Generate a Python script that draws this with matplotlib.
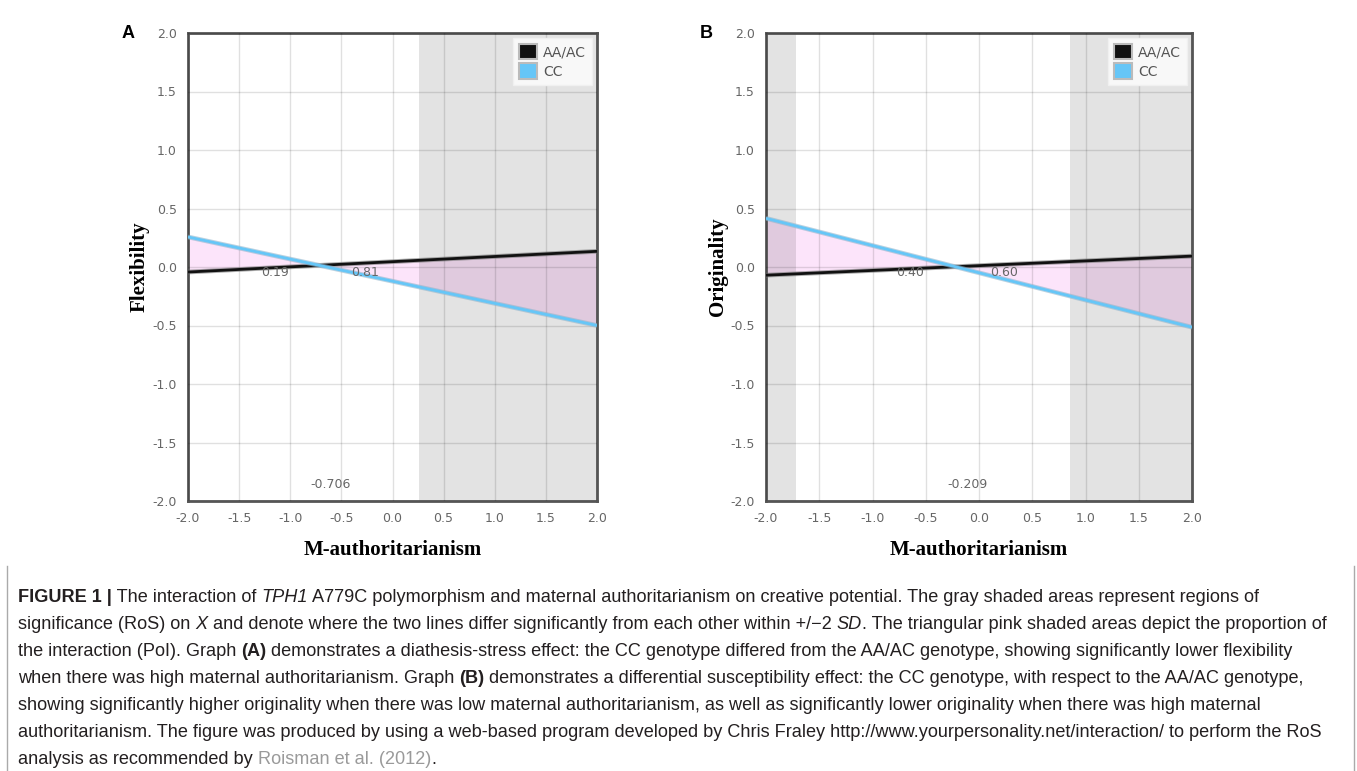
import numpy as np
import matplotlib
matplotlib.use("Agg")
import matplotlib.pyplot as plt
from matplotlib.patches import Patch
from matplotlib.lines import Line2D
import matplotlib.patheffects as pe

# x range of the simple slopes
x_ends = [-2.0, 2.0]

# panel A: Flexibility
flex_aa = [-0.043, 0.134]
flex_cc = [0.257, -0.500]
flex_ros = [(0.26, 2.0)]
flex_cross = -0.706
flex_poi = ["0.19", "0.81"]

# panel B: Originality
orig_aa = [-0.070, 0.093]
orig_cc = [0.416, -0.515]
orig_ros = [(-2.0, -1.72), (0.85, 2.0)]
orig_cross = -0.209
orig_poi = ["0.40", "0.60"]

groups = ["AA/AC", "CC"]
group_colors = ["#111111", "#66c6f7"]
ticks = [-2.0, -1.5, -1.0, -0.5, 0.0, 0.5, 1.0, 1.5, 2.0]

W, H = 1357, 771
fig = plt.figure(figsize=(W / 100, H / 100), dpi=100)
fig.patch.set_facecolor("white")

tick_col = "#666666"
serif = ["Liberation Serif", "DejaVu Serif"]
sans = ["Liberation Sans", "DejaVu Sans"]


def panel(rect, aa, cc, ros, cross, poi, ylabel, letter):
    ax = fig.add_axes(rect)
    x = np.array(x_ends)
    aa = np.array(aa)
    cc = np.array(cc)
    # proportion of interaction (pink triangles)
    xs = np.linspace(x[0], x[1], 200)
    ya = np.interp(xs, x, aa)
    yc = np.interp(xs, x, cc)
    ax.fill_between(xs, ya, yc, color="#f07ae6", alpha=0.2, lw=0, zorder=1)
    # regions of significance
    for a, b in ros:
        ax.axvspan(a, b, color="black", alpha=0.11, lw=0, zorder=2)
    ax.grid(True, color="black", alpha=0.12, lw=1, zorder=3)
    ax.set_axisbelow(False)
    for vals, c, edge in zip([aa, cc], group_colors, ["#777777", "#8fb4cc"]):
        ax.plot(x, vals, color=c, lw=2.0, zorder=5, solid_capstyle="butt",
                path_effects=[pe.withStroke(linewidth=3.4, foreground=edge, alpha=0.6)])
    ax.set_xlim(-2, 2)
    ax.set_ylim(-2, 2)
    ax.set_xticks(ticks)
    ax.set_yticks(ticks)
    ax.set_xticklabels(["%.1f" % t for t in ticks])
    ax.set_yticklabels(["%.1f" % t for t in ticks])
    ax.tick_params(length=0, labelsize=9, labelcolor=tick_col, pad=8)
    for s in ax.spines.values():
        s.set_color("#555555")
        s.set_linewidth(2)
    # labels of the crossing point and PoI
    ax.text(cross - 0.44, -0.05, poi[0], ha="center", va="center",
            fontsize=9, color=tick_col, zorder=6)
    ax.text(cross + 0.44, -0.05, poi[1], ha="center", va="center",
            fontsize=9, color=tick_col, zorder=6)
    ax.text(cross + 0.1, -1.86, "%.3f" % cross, ha="center", va="center",
            fontsize=9, color=tick_col, zorder=6)
    handles = [Patch(facecolor=c, edgecolor="#bbbbbb", lw=1.5) for c in group_colors]
    leg = ax.legend(handles, groups, loc="upper right", fontsize=10,
                    labelcolor="#555555", handlelength=1.3, handleheight=1.3,
                    handletextpad=0.4, borderpad=0.45, labelspacing=0.3,
                    fancybox=False, framealpha=1, borderaxespad=0.35)
    leg.get_frame().set_facecolor("#f8f8f8")
    leg.get_frame().set_edgecolor("#f0f0f0")
    leg.set_zorder(10)
    ax.set_ylabel(ylabel, family=serif, fontweight="bold", fontsize=15, labelpad=2)
    ax.set_xlabel("M-authoritarianism", family=serif, fontweight="bold",
                  fontsize=15, labelpad=11)
    fig.text(rect[0] - 60 / W, rect[1] + rect[3], letter, family=sans,
             fontweight="bold", fontsize=13, ha="center", va="center")
    return ax


bot = (H - 501) / H
hgt = (501 - 33) / H
panel([188 / W, bot, (597 - 188) / W, hgt], flex_aa, flex_cc, flex_ros,
      flex_cross, flex_poi, "Flexibility", "A")
panel([766 / W, bot, (1192 - 766) / W, hgt], orig_aa, orig_cc, orig_ros,
      orig_cross, orig_poi, "Originality", "B")

# caption box
for xx in [7, 1354]:
    fig.add_artist(Line2D([xx / W, xx / W], [0, (H - 566) / H], color="#aaaaaa", lw=1))

caption = [
    [("FIGURE 1 |", "b"), (" The interaction of ", ""), ("TPH1", "i"),
     (" A779C polymorphism and maternal authoritarianism on creative potential. "
      "The gray shaded areas represent regions of", "")],
    [("significance (RoS) on ", ""), ("X", "i"),
     (" and denote where the two lines differ significantly from each other within +/\u22122 ", ""),
     ("SD", "i"), (". The triangular pink shaded areas depict the proportion of", "")],
    [("the interaction (PoI). Graph ", ""), ("(A)", "b"),
     (" demonstrates a diathesis-stress effect: the CC genotype differed from the AA/AC "
      "genotype, showing significantly lower flexibility", "")],
    [("when there was high maternal authoritarianism. Graph ", ""), ("(B)", "b"),
     (" demonstrates a differential susceptibility effect: the CC genotype, with respect "
      "to the AA/AC genotype,", "")],
    [("showing significantly higher originality when there was low maternal "
      "authoritarianism, as well as significantly lower originality when there was high maternal", "")],
    [("authoritarianism. The figure was produced by using a web-based program developed by "
      "Chris Fraley http://www.yourpersonality.net/interaction/ to perform the RoS", "")],
    [("analysis as recommended by ", ""), ("Roisman et al. (2012)", "g"), (".", "")],
]

renderer = fig.canvas.get_renderer()
cap_size = 13.1


def style_kw(st):
    kw = dict(fontsize=cap_size, family=sans, color="#231f20", va="baseline",
              transform=None)
    if st == "b":
        kw["fontweight"] = "bold"
    elif st == "i":
        kw["fontstyle"] = "italic"
    elif st == "g":
        kw["color"] = "#9a9a9a"
    return kw


def run_width(txt, kw):
    t = fig.text(0, 0, "|" + txt + "|", **kw)
    w1 = t.get_window_extent(renderer).width
    t.set_text("||")
    w2 = t.get_window_extent(renderer).width
    t.remove()
    return w1 - w2


for i, line in enumerate(caption):
    x = 18
    y = H - (602 + 27 * i)
    for txt, st in line:
        kw = style_kw(st)
        fig.text(x, y, txt, **kw)
        x += run_width(txt, kw)

fig.savefig("out.png", dpi=100)
